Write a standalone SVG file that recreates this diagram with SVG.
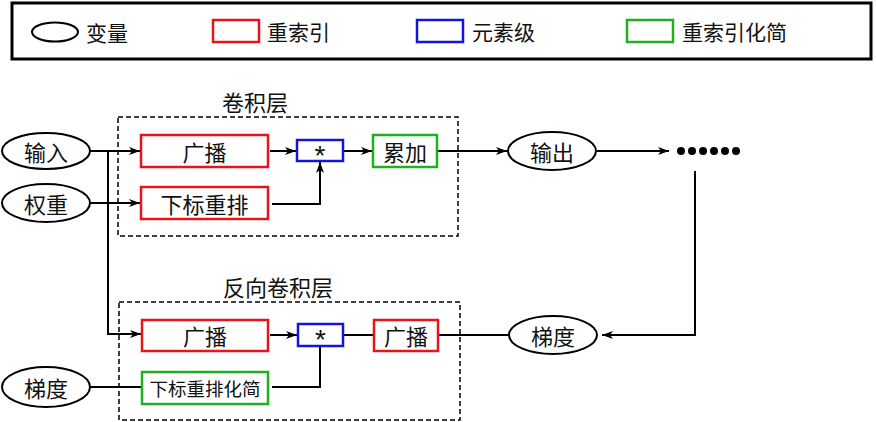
<svg xmlns="http://www.w3.org/2000/svg" width="876" height="422" viewBox="0 0 876 422">
<defs>
<marker id="arr" markerWidth="12" markerHeight="10" refX="11" refY="5" orient="auto" markerUnits="userSpaceOnUse">
<path d="M0,1 L11,5 L0,9 L3,5 z" fill="#000"/>
</marker>
<style>
text{font-family:"Noto Sans CJK SC","Noto Sans",sans-serif;fill:#111;}
.t{font-size:22px;text-anchor:middle;dominant-baseline:central;}
.lg{font-size:21px;dominant-baseline:central;}
.star{font-family:"Liberation Sans",sans-serif;font-size:28px;text-anchor:middle;}
.ell{fill:#fff;stroke:#000;stroke-width:2;}
.red{fill:#fff;stroke:#e8141c;stroke-width:2.5;}
.blue{fill:#fff;stroke:#1414e0;stroke-width:2.5;}
.green{fill:#fff;stroke:#1fb01f;stroke-width:2.5;}
.dash{fill:none;stroke:#000;stroke-width:1.5;stroke-dasharray:5,3;}
.c{fill:none;stroke:#000;stroke-width:2;}
.ca{fill:none;stroke:#000;stroke-width:2;marker-end:url(#arr);}
</style>
</defs>
<rect width="876" height="422" fill="#fff"/>
<g id="legend">
<rect x="12" y="3" width="859" height="56" fill="#fff" stroke="#000" stroke-width="3"/>
<ellipse cx="55" cy="32" rx="23" ry="9.5" class="ell"/>
<text x="86" y="32" class="lg">变量</text>
<rect x="213" y="20" width="46" height="22" class="red"/>
<text x="267" y="31" class="lg">重索引</text>
<rect x="417" y="20" width="46" height="22" class="blue"/>
<text x="472" y="31" class="lg">元素级</text>
<rect x="627" y="20" width="46" height="22" class="green"/>
<text x="682" y="31" class="lg">重索引化简</text>
</g>
<g id="conv-layer">
<rect x="118" y="117" width="340" height="119" class="dash"/>
<text x="255" y="101" class="t">卷积层</text>
</g>
<g id="deconv-layer">
<rect x="119" y="302" width="341" height="118" class="dash"/>
<text x="278" y="286" class="t">反向卷积层</text>
</g>
<g id="connectors">
<line x1="90" y1="151" x2="140" y2="151" class="ca"/>
<polyline points="108,151 108,334 141,334" class="ca"/>
<line x1="90" y1="203" x2="140" y2="203" class="ca"/>
<line x1="270" y1="151" x2="296" y2="151" class="ca"/>
<polyline points="272,204 320,204 320,162" class="ca"/>
<line x1="343" y1="151" x2="372" y2="151" class="ca"/>
<line x1="437" y1="151" x2="507" y2="151" class="ca"/>
<line x1="597" y1="151" x2="669" y2="151" class="ca"/>
<polyline points="695,171 695,335 602,335" class="ca"/>
<line x1="270" y1="335" x2="297" y2="335" class="ca"/>
<line x1="90" y1="387" x2="142" y2="387" class="c"/>
<polyline points="272,387 320,387 320,346" class="c"/>
<line x1="343" y1="335" x2="373" y2="335" class="c"/>
<line x1="438" y1="335" x2="509" y2="335" class="c"/>
</g>
<g id="n-input"><ellipse cx="46" cy="151" rx="44" ry="18" class="ell"/><text x="46" y="151" class="t">输入</text></g>
<g id="n-weight"><ellipse cx="46" cy="203" rx="44" ry="19" class="ell"/><text x="46" y="203" class="t">权重</text></g>
<g id="n-bcast1"><rect x="141" y="135" width="127" height="32" class="red"/><text x="204.5" y="151" class="t">广播</text></g>
<g id="n-reorder"><rect x="141" y="187" width="127" height="32" class="red"/><text x="204.5" y="203" class="t">下标重排</text></g>
<g id="n-mul1"><rect x="297" y="140" width="46" height="21" class="blue"/><text x="320" y="165" class="star">*</text></g>
<g id="n-accum"><rect x="373" y="135" width="64" height="32" class="green"/><text x="405" y="151" class="t">累加</text></g>
<g id="n-output"><ellipse cx="552" cy="151" rx="44" ry="19" class="ell"/><text x="552" y="151" class="t">输出</text></g>
<g id="n-dots" fill="#000">
<circle cx="681" cy="151" r="4"/><circle cx="692" cy="151" r="4"/><circle cx="703" cy="151" r="4"/><circle cx="714" cy="151" r="4"/><circle cx="725" cy="151" r="4"/><circle cx="736" cy="151" r="4"/>
</g>
<g id="n-grad-right"><ellipse cx="553" cy="335" rx="44" ry="19" class="ell"/><text x="553" y="335" class="t">梯度</text></g>
<g id="n-grad-left"><ellipse cx="46" cy="387" rx="44" ry="20" class="ell"/><text x="46" y="387" class="t">梯度</text></g>
<g id="n-bcast2"><rect x="142" y="320" width="126" height="31" class="red"/><text x="205" y="335" class="t">广播</text></g>
<g id="n-reorder-reduce"><rect x="142" y="372" width="126" height="32" class="green"/><text x="205" y="388" class="t" style="font-size:18.5px">下标重排化简</text></g>
<g id="n-mul2"><rect x="298" y="324" width="45" height="22" class="blue"/><text x="320.5" y="349" class="star">*</text></g>
<g id="n-bcast3"><rect x="374" y="320" width="64" height="31" class="red"/><text x="406" y="335" class="t">广播</text></g>
</svg>
